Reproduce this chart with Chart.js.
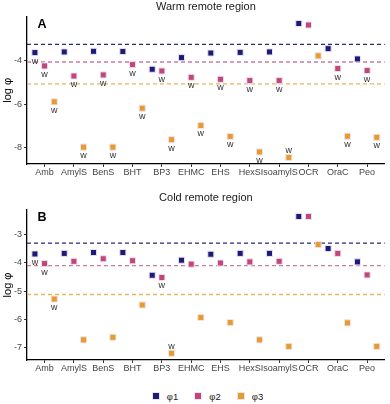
<!DOCTYPE html>
<html>
<head>
<meta charset="utf-8">
<script src="https://cdn.jsdelivr.net/npm/chart.js@4.4.1/dist/chart.umd.min.js"></script>
<style>
  body{margin:0;background:#fff;font-family:"Liberation Sans",Arial,sans-serif;color:#222;}
  .panel{width:390px;position:relative;}
  #legend{width:361px;margin-left:27px;height:18px;display:flex;justify-content:center;align-items:center;padding-top:2px;box-sizing:border-box;font-size:9.5px;color:#222;}
  #legend span.item{display:flex;align-items:center;margin:0 8px;color:#222;}
  #legend span.box{width:6px;height:6px;border:1px solid #ece4ef;margin-right:7px;}
</style>
</head>
<body>
<div class="panel" style="height:190px"><canvas id="warm"></canvas></div>
<div class="panel" style="height:196px"><canvas id="cold"></canvas></div>
<div id="legend"></div>
<script>
// categories and series
var categories = ['Amb','AmylS','BenS','BHT','BP3','EHMC','EHS','HexS','IsoamylS','OCR','OraC','Peo'];
var seriesNames = ['φ1','φ2','φ3'];

// warm remote region (log phi)
var warmPhi1 = [-3.65,-3.62,-3.59,-3.60,-4.41,-3.88,-3.67,-3.64,-3.62,-2.32,-3.47,-3.94];
var warmPhi2 = [-4.26,-4.72,-4.67,-4.20,-4.49,-4.78,-4.87,-4.93,-4.93,-2.39,-4.38,-4.47];
var warmPhi3 = [-5.90,-7.97,-7.97,-6.19,-7.63,-6.98,-7.48,-8.19,-8.44,-3.80,-7.47,-7.52];
var warmRef = [-3.27,-4.08,-5.08];
// 1 = "w" flag on that point
var warmW1 = [1,0,0,0,0,0,0,0,0,0,0,0];
var warmW2 = [1,1,1,1,1,1,1,1,1,0,1,1];
var warmW3 = [1,1,1,1,1,1,1,1,1,0,1,1];

// cold remote region
var coldPhi1 = [-3.69,-3.67,-3.64,-3.64,-4.44,-3.91,-3.70,-3.67,-3.67,-2.37,-3.50,-3.97];
var coldPhi2 = [-4.03,-3.95,-3.86,-3.93,-4.52,-4.05,-4.01,-3.97,-3.95,-2.37,-3.67,-4.43];
var coldPhi3 = [-5.28,-6.72,-6.63,-5.49,-7.19,-5.93,-6.11,-6.72,-6.95,-3.36,-6.12,-6.95];
var coldRef = [-3.31,-4.10,-5.12];
var coldW1 = [1,0,0,0,0,0,0,0,0,0,0,0];
var coldW2 = [1,0,0,0,1,0,0,0,0,0,0,0];
var coldW3 = [1,0,0,0,1,0,0,0,0,0,0,0];

var warmTicks = [-8,-6,-4];
var coldTicks = [-7,-6,-5,-4,-3];

const FONT = '"Liberation Sans", Arial, sans-serif';
const pointColors = ['#1c1c78','#c0467b','#e89a2c'];
const lineColors = ['#2a2a7c','#c97ba3','#e8b65e'];
const DODGE = 0.33;

// dashed reference lines, drawn under the points
const refLines = {
  id:'refLines',
  beforeDatasetsDraw(chart, args, opts){
    const ctx = chart.ctx, a = chart.chartArea, ys = chart.scales.y;
    ctx.save();
    ctx.setLineDash([4,3]);
    ctx.lineWidth = 1.3;
    opts.values.forEach((v,k)=>{
      const y = ys.getPixelForValue(v);
      ctx.strokeStyle = lineColors[k];
      ctx.beginPath(); ctx.moveTo(a.left, y); ctx.lineTo(a.right, y); ctx.stroke();
    });
    ctx.restore();
  }
};

// "w" marks next to flagged points
const wLabels = {
  id:'wLabels',
  afterDatasetsDraw(chart, args, opts){
    const ctx = chart.ctx, bottom = chart.chartArea.bottom;
    ctx.save();
    ctx.font = '9px ' + FONT;
    ctx.fillStyle = '#333';
    ctx.textAlign = 'center';
    ctx.textBaseline = 'alphabetic';
    opts.flags.forEach((fl,d)=>{
      const meta = chart.getDatasetMeta(d);
      fl.forEach((f,i)=>{
        if(!f) return;
        const p = meta.data[i];
        if(p.y + 10 > bottom) ctx.fillText('w', p.x, p.y - 4.5);
        else ctx.fillText('w', p.x, p.y + 11);
      });
    });
    ctx.restore();
  }
};

const panelLetter = {
  id:'panelLetter',
  afterDraw(chart, args, opts){
    const ctx = chart.ctx, a = chart.chartArea;
    ctx.save();
    ctx.font = 'bold 12.5px ' + FONT;
    ctx.fillStyle = '#000';
    ctx.textAlign = 'center';
    ctx.textBaseline = 'middle';
    ctx.fillText(opts.text, a.left + 15, a.top + 8);
    ctx.restore();
  }
};

function makeChart(id, title, letter, series, flags, refs, yMin, yMax, yTicks, titlePad){
  const datasets = series.map((vals,k)=>({
    label: seriesNames[k],
    data: vals.map((v,i)=>({x: i + 1 + (k-1)*DODGE, y: v})),
    pointStyle: 'rect',
    pointRadius: 4.3,
    pointHoverRadius: 4.3,
    backgroundColor: pointColors[k],
    borderColor: '#ece4ef',
    borderWidth: 1
  }));
  return new Chart(document.getElementById(id), {
    type: 'scatter',
    data: { datasets },
    options: {
      animation: false,
      responsive: true,
      maintainAspectRatio: false,
      layout: { padding: { left:0, right:2, top:0, bottom:0 } },
      plugins: {
        legend: { display:false },
        tooltip: { enabled:false },
        title: { display:true, text:title, fullSize:false, color:'#1a1a1a',
                 font:{ size:11, family:FONT, weight:'normal' }, padding:titlePad },
        refLines: { values: refs },
        wLabels: { flags: flags },
        panelLetter: { text: letter }
      },
      scales: {
        x: {
          type:'linear', min:0.4, max:12.6,
          afterBuildTicks: s => { s.ticks = categories.map((c,i)=>({value:i+1})); },
          afterFit: s => { s.height = 26; },
          ticks: { autoSkip:false, maxRotation:0, minRotation:0, padding:0, color:'#444',
                   font:{ size:9, family:FONT }, callback: v => categories[Math.round(v)-1] },
          grid: { drawOnChartArea:false, tickLength:3, color:'#333' },
          border: { color:'#000', width:1.3 }
        },
        y: {
          min:yMin, max:yMax,
          afterBuildTicks: s => { s.ticks = yTicks.map(v=>({value:v})); },
          afterFit: s => { s.width = 27; },
          ticks: { padding:2, color:'#444', font:{ size:9, family:FONT }, callback: v => String(v) },
          title: { display:true, text:'log φ', color:'#000', font:{ size:11, family:FONT }, padding:{top:1,bottom:0} },
          grid: { drawOnChartArea:false, tickLength:3, color:'#333' },
          border: { color:'#000', width:1.3 }
        }
      }
    },
    plugins: [refLines, wLabels, panelLetter]
  });
}

makeChart('warm', 'Warm remote region', 'A', [warmPhi1, warmPhi2, warmPhi3],
  [warmW1, warmW2, warmW3], warmRef, -8.74, -2.01, warmTicks, {top:0, bottom:3.5});
makeChart('cold', 'Cold remote region', 'B', [coldPhi1, coldPhi2, coldPhi3],
  [coldW1, coldW2, coldW3], coldRef, -7.43, -2.14, coldTicks, {top:1, bottom:5.8});

// legend
var lg = document.getElementById('legend');
seriesNames.forEach((n,k)=>{
  var it = document.createElement('span'); it.className = 'item';
  var b = document.createElement('span'); b.className = 'box'; b.style.background = pointColors[k];
  var t = document.createElement('span'); t.textContent = n; t.style.color = '#222';
  it.appendChild(b); it.appendChild(t);
  lg.appendChild(it);
});
</script>
</body>
</html>
